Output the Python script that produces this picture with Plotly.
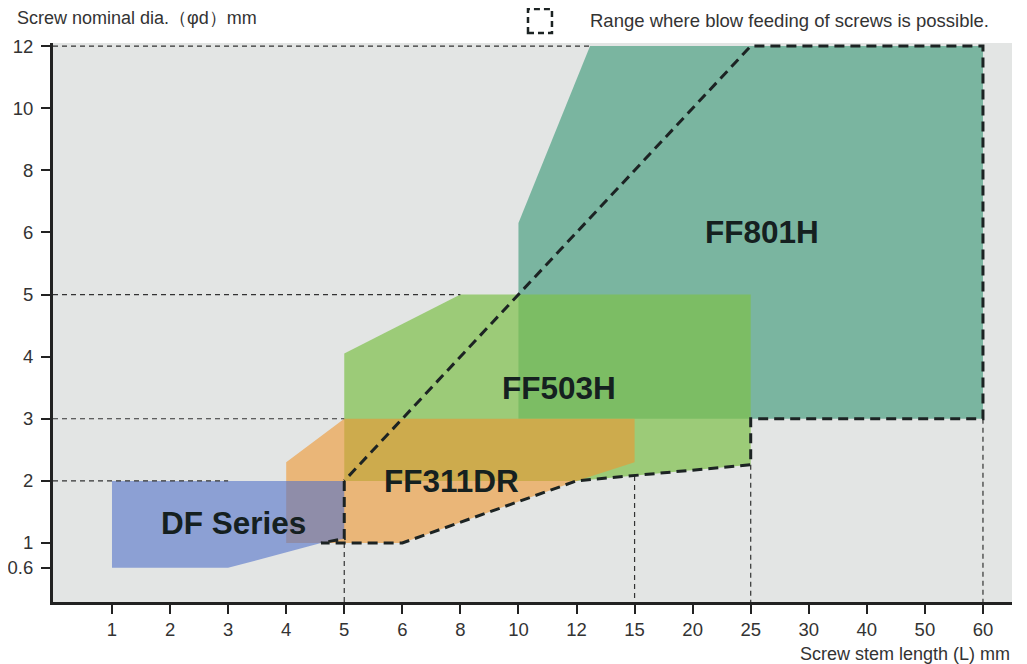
import numpy as np
import plotly.graph_objects as go

# ---- axis scales (categorical-like, evenly spaced ticks) ----
X_TICKS = [1, 2, 3, 4, 5, 6, 8, 10, 12, 15, 20, 25, 30, 40, 50, 60]
Y_TICKS = [0.6, 1, 2, 3, 4, 5, 6, 8, 10, 12]
Y_BREAKS = [0, 1, 2, 3, 4, 5, 6, 8, 10, 12]

# ---- regions (screw stem length L, nominal dia d) ----
FF801H_L = [10, 10, 12.7, 60, 60]
FF801H_D = [3, 6.3, 12, 12, 3]

FF503H_L = [5, 5, 8, 25, 25, 12]
FF503H_D = [2, 4.05, 5, 5, 2.26, 2]

FF311DR_L = [4, 4, 5, 15, 15, 12, 6]
FF311DR_D = [1, 2.3, 3, 3, 2.3, 2, 1]

DF_L = [1, 5, 5, 4.6, 3, 1]
DF_D = [2, 2, 1.07, 1, 0.6, 0.6]

# blow-feeding range boundary
RANGE_L = [5, 5, 4.6, 6, 12, 25, 25, 60, 60, 25, 5]
RANGE_D = [2, 1.07, 1, 1, 2, 2.26, 3, 3, 12, 12, 2]

# guide lines: horizontal (d, L end), vertical (L, d start)
HGUIDE_D = [12, 5, 3, 2]
HGUIDE_L_END = [12.7, 8, 5, 3]
VGUIDE_L = [5, 15, 25, 60]
VGUIDE_D_START = [1, 2.08, 2.26, 3]


def xs(v):
    return np.interp(v, X_TICKS, np.arange(len(X_TICKS)))


def ys(v):
    return np.interp(v, Y_BREAKS, np.arange(len(Y_BREAKS)) - 1.0)


X_RANGE = [-1.016, 15.50]
Y_RANGE = [-0.95, 8.05]

fig = go.Figure()


def region(L, D, color):
    fig.add_trace(go.Scatter(
        x=xs(L), y=ys(D), fill="toself", fillcolor=color, mode="lines",
        line=dict(width=0), hoverinfo="skip", showlegend=False))


region(FF801H_L, FF801H_D, "rgb(122,181,160)")
region(FF503H_L, FF503H_D, "rgba(126,192,74,0.7)")
region(FF311DR_L, FF311DR_D, "rgba(238,150,48,0.6)")
region(DF_L, DF_D, "rgba(82,114,201,0.6)")

# guide lines
for d, le in zip(HGUIDE_D, HGUIDE_L_END):
    fig.add_trace(go.Scatter(
        x=[X_RANGE[0], xs(le)], y=[ys(d), ys(d)], mode="lines",
        line=dict(color="#333333", width=1.2, dash="5px,4px"),
        hoverinfo="skip", showlegend=False))
for le, d in zip(VGUIDE_L, VGUIDE_D_START):
    fig.add_trace(go.Scatter(
        x=[xs(le), xs(le)], y=[ys(d), Y_RANGE[0]], mode="lines",
        line=dict(color="#333333", width=1.2, dash="5px,4px"),
        hoverinfo="skip", showlegend=False))

# range boundary
fig.add_trace(go.Scatter(
    x=xs(RANGE_L), y=ys(RANGE_D), mode="lines",
    line=dict(color="#1c2323", width=3, dash="10px,6px"),
    hoverinfo="skip", showlegend=False))

label_font = dict(family="Liberation Sans, Arial, sans-serif", size=31.5, color="#152020")
for txt, L, d in [("FF801H", 26, 6), ("FF503H", 11.4, 3.5),
                  ("FF311DR", 7.7, 2.0), ("DF Series", 3.1, 1.32)]:
    fig.add_annotation(x=float(xs(L)), y=float(ys(d)), text="<b>%s</b>" % txt,
                       showarrow=False, font=label_font)

axis_font = dict(family="Liberation Sans, Arial, sans-serif", size=18.5, color="#333333")

fig.add_annotation(xref="paper", yref="paper", x=-0.0396, y=1.0447, xanchor="left",
                   yanchor="middle", text="Screw nominal dia.（φd）mm",
                   showarrow=False, font=dict(family="Liberation Sans, Arial, sans-serif",
                                              size=18, color="#333333"))
fig.add_annotation(xref="paper", yref="paper", x=1.0, y=-0.093, xanchor="right",
                   yanchor="middle", text="Screw stem length (L) mm",
                   showarrow=False, font=dict(family="Liberation Sans, Arial, sans-serif",
                                              size=18, color="#333333"))
fig.add_annotation(xref="paper", yref="paper", x=0.5579, y=1.041, xanchor="left",
                   yanchor="middle", text="Range where blow feeding of screws is possible.",
                   showarrow=False, font=axis_font)
fig.add_shape(type="rect", xref="paper", yref="paper", x0=0.4953, x1=0.5203,
              y0=1.0179, y1=1.0608, line=dict(color="#1c2323", width=2.5, dash="6px,4px"))

# page body has an 8px margin, so the figure is shrunk/shifted to compensate
fig.update_layout(
    width=1019, height=656,
    margin=dict(l=45, r=15, t=35, b=62),
    paper_bgcolor="white", plot_bgcolor="#e3e5e4",
    xaxis=dict(range=X_RANGE, tickvals=list(xs(X_TICKS)),
               ticktext=[str(t) for t in X_TICKS], showgrid=False, zeroline=False,
               showline=True, linecolor="#222222", linewidth=3,
               ticks="outside", ticklen=9, tickwidth=1.5, tickcolor="#222222",
               tickfont=axis_font, fixedrange=True, automargin=False),
    yaxis=dict(range=Y_RANGE, tickvals=list(ys(Y_TICKS)),
               ticktext=[str(t) for t in Y_TICKS], showgrid=False, zeroline=False,
               showline=True, linecolor="#222222", linewidth=3,
               ticks="outside", ticklen=9, tickwidth=1.5, tickcolor="#222222",
               tickfont=axis_font, ticklabelstandoff=4, fixedrange=True,
               automargin=False),
)

fig.write_html("out.html")
